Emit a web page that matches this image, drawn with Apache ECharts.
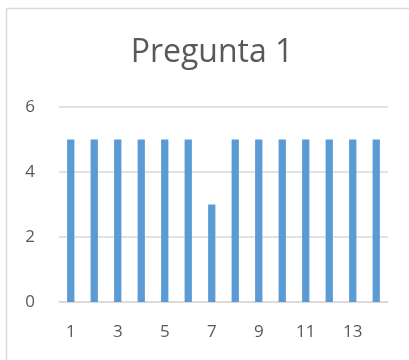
<!DOCTYPE html>
<html><head><meta charset="utf-8">
<script src="https://cdn.jsdelivr.net/npm/echarts@6/dist/echarts.min.js"></script>
<style>html,body{margin:0;padding:0;background:#fff}#c{width:409px;height:360px}</style>
</head><body><div id="c"></div>
<script>
const categories = ['1','2','3','4','5','6','7','8','9','10','11','12','13','14'];
const values = [5,5,5,5,5,5,3,5,5,5,5,5,5,5];
const titleText = 'Pregunta 1';
const chart = echarts.init(document.getElementById('c'));
chart.setOption({
  animation: false,
  backgroundColor: '#fff',
  graphic: [
    {type:'line', shape:{x1:6.5,y1:8.5,x2:409,y2:8.5}, style:{stroke:'#d9d9d9',lineWidth:1.5}},
    {type:'line', shape:{x1:6.5,y1:8.5,x2:6.5,y2:360}, style:{stroke:'#d9d9d9',lineWidth:1.5}}
  ],
  title: {text: titleText, left: 212, textAlign:'center', top: 37, padding:0,
    textStyle:{fontFamily:'Open Sans', fontSize:32, fontWeight:'normal', color:'#595959'}},
  grid: {left: 59, right: 21, top: 107, bottom: 58, containLabel:false},
  xAxis: {type:'category', data: categories,
    axisLine:{lineStyle:{color:'#d9d9d9', width:1.5}}, axisTick:{show:false},
    axisLabel:{interval:1, margin:22, color:'#595959', fontFamily:'Open Sans', fontSize:17}},
  yAxis: {type:'value', min:0, max:6, interval:2,
    axisLine:{show:false}, axisTick:{show:false},
    splitLine:{lineStyle:{color:'#d9d9d9', width:1.5}},
    axisLabel:{margin:24, color:'#595959', fontFamily:'Open Sans', fontSize:17}},
  series: [{type:'bar', data: values, barWidth:'31%', itemStyle:{color:'#5b9bd5'}}]
});
</script></body></html>
